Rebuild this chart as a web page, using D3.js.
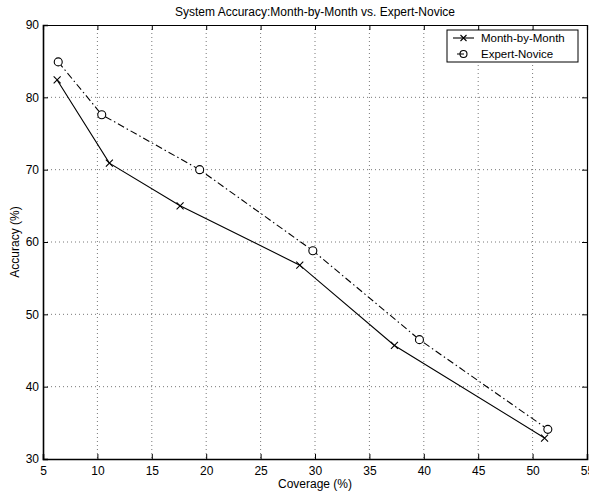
<!DOCTYPE html>
<html>
<head>
<meta charset="utf-8">
<script src="https://cdn.jsdelivr.net/npm/d3@7"></script>
<style>
  body { margin: 0; background: #fff; }
  svg { display: block; }
  text { font-family: "Liberation Sans", Arial, Helvetica, sans-serif; fill: #000; }
</style>
</head>
<body>
<svg id="chart" width="589" height="494"></svg>
<script>
// ---- data ----
const mbmCoverage = [6.3, 11.1, 17.6, 28.6, 37.3, 51.1];
const mbmAccuracy = [82.4, 70.9, 65.0, 56.8, 45.7, 32.9];
const enCoverage  = [6.4, 10.4, 19.4, 29.8, 39.6, 51.4];
const enAccuracy  = [84.9, 77.6, 70.0, 58.8, 46.5, 34.1];
const xTicks = [5, 10, 15, 20, 25, 30, 35, 40, 45, 50, 55];
const yTicks = [30, 40, 50, 60, 70, 80, 90];
const seriesNames = ["Month-by-Month", "Expert-Novice"];
const titleText = "System Accuracy:Month-by-Month vs. Expert-Novice";
const xLabelText = "Coverage (%)";
const yLabelText = "Accuracy (%)";

(function () {
// ---- layout ----
const L = 43, R = 587, T = 25, B = 459;
const svg = d3.select("#chart");
const x = d3.scaleLinear().domain([5, 55]).range([L, R]);
const y = d3.scaleLinear().domain([30, 90]).range([B, T]);

// grid
const grid = svg.append("g").attr("stroke", "#555").attr("stroke-width", 0.8)
  .attr("stroke-dasharray", "1,3");
xTicks.slice(1, -1).forEach(t => grid.append("line")
  .attr("x1", x(t)).attr("x2", x(t)).attr("y1", T).attr("y2", B));
yTicks.slice(1, -1).forEach(t => grid.append("line")
  .attr("x1", L).attr("x2", R).attr("y1", y(t)).attr("y2", y(t)));

// axes with inward ticks (MATLAB style)
const fs = 12;
const axB = svg.append("g").attr("transform", `translate(0,${B})`)
  .call(d3.axisBottom(x).tickValues(xTicks).tickSize(-5).tickPadding(7).tickFormat(d3.format("d")));
const axT = svg.append("g").attr("transform", `translate(0,${T})`)
  .call(d3.axisTop(x).tickValues(xTicks).tickSize(-5).tickFormat(""));
const axL = svg.append("g").attr("transform", `translate(${L},0)`)
  .call(d3.axisLeft(y).tickValues(yTicks).tickSize(-5).tickPadding(4).tickFormat(d3.format("d")));
const axR = svg.append("g").attr("transform", `translate(${R},0)`)
  .call(d3.axisRight(y).tickValues(yTicks).tickSize(-5).tickFormat(""));
[axB, axT, axL, axR].forEach(g => {
  g.selectAll("path").attr("stroke", "#000").attr("stroke-width", 1.2);
  g.selectAll("line").attr("stroke", "#000").attr("stroke-width", 1);
  g.selectAll("text").style("font-size", fs + "px")
    .style("font-family", '"Liberation Sans", Arial, sans-serif').attr("fill", "#000");
});
axL.select("path").attr("stroke-width", 1.6);
axB.select("path").attr("stroke-width", 1.6);

// lines
const mbm = mbmCoverage.map((c, i) => [c, mbmAccuracy[i]]);
const en = enCoverage.map((c, i) => [c, enAccuracy[i]]);
const line = d3.line().x(d => x(d[0])).y(d => y(d[1]));

svg.append("path").datum(mbm).attr("d", line)
  .attr("fill", "none").attr("stroke", "#000").attr("stroke-width", 1.1);
svg.append("path").datum(en).attr("d", line)
  .attr("fill", "none").attr("stroke", "#000").attr("stroke-width", 1.1)
  .attr("stroke-dasharray", "7,3,1.5,3");

// markers
const xm = 3.5;
svg.append("g").selectAll("path").data(mbm).join("path")
  .attr("d", d => {
    const cx = x(d[0]), cy = y(d[1]);
    return `M${cx - xm},${cy - xm}L${cx + xm},${cy + xm}M${cx - xm},${cy + xm}L${cx + xm},${cy - xm}`;
  })
  .attr("stroke", "#000").attr("stroke-width", 1.1).attr("fill", "none");
svg.append("g").selectAll("circle").data(en).join("circle")
  .attr("cx", d => x(d[0])).attr("cy", d => y(d[1])).attr("r", 4)
  .attr("fill", "#fff").attr("stroke", "#000").attr("stroke-width", 1.1);

// legend
const lg = svg.append("g");
lg.append("rect").attr("x", 447).attr("y", 30).attr("width", 131).attr("height", 32)
  .attr("fill", "#fff").attr("stroke", "#000").attr("stroke-width", 1);
const ly1 = 38, ly2 = 54;
lg.append("line").attr("x1", 453).attr("x2", 474).attr("y1", ly1).attr("y2", ly1)
  .attr("stroke", "#000").attr("stroke-width", 1.1);
lg.append("path").attr("d", `M${463.5 - 3},${ly1 - 3}L${463.5 + 3},${ly1 + 3}M${463.5 - 3},${ly1 + 3}L${463.5 + 3},${ly1 - 3}`)
  .attr("stroke", "#000").attr("stroke-width", 1.1);
lg.append("line").attr("x1", 453).attr("x2", 474).attr("y1", ly2).attr("y2", ly2)
  .attr("stroke", "#000").attr("stroke-width", 1.1).attr("stroke-dasharray", "0,4,7,10");
lg.append("circle").attr("cx", 463.5).attr("cy", ly2).attr("r", 3.5)
  .attr("fill", "none").attr("stroke", "#000").attr("stroke-width", 1.1);
lg.append("text").attr("x", 481).attr("y", ly1 + 4).style("font-size", "11.5px").text(seriesNames[0]);
lg.append("text").attr("x", 481).attr("y", ly2 + 4).style("font-size", "11.5px").text(seriesNames[1]);

// titles
svg.append("text").attr("x", (L + R) / 2).attr("y", 16).attr("text-anchor", "middle")
  .style("font-size", "12px").text(titleText);
svg.append("text").attr("x", (L + R) / 2).attr("y", 488).attr("text-anchor", "middle")
  .style("font-size", "12px").text(xLabelText);
svg.append("text").attr("transform", `translate(19,${(T + B) / 2}) rotate(-90)`)
  .attr("text-anchor", "middle").style("font-size", "12px").text(yLabelText);
})();
</script>
</body>
</html>
